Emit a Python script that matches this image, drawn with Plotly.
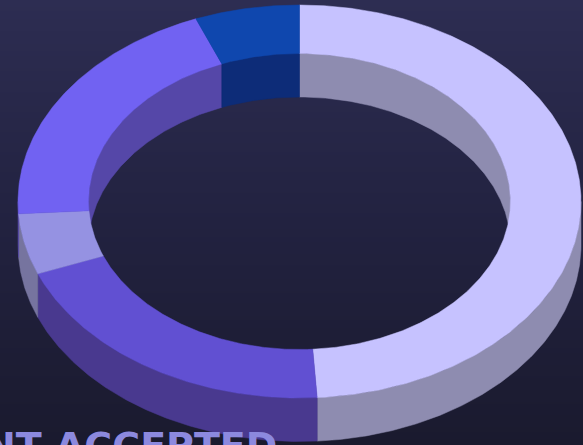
import numpy as np
import plotly.graph_objects as go

values = [49, 20, 5, 20, 6]
top_colors = ["#C6C2FF", "#6150D2", "#9592E2", "#7162F2", "#0F47AE"]
wall_colors = ["#8E8CB0", "#49398F", "#76749F", "#5547A8", "#0D2C78"]
caption = "NT ACCEPTED"

CX, CY = 299.5, 201.5
A_OUT, B_OUT = 281.5, 196.5
A_IN, B_IN = 211.0, 148.0
DEPTH = 43.5


def pt(theta, a, b, dy=0.0):
    t = np.radians(theta)
    return CX + a * np.sin(t), CY - b * np.cos(t) + dy


def band(t0, t1, a0, b0, dy0, a1, b1, dy1):
    n = max(int(abs(t1 - t0) * 2), 2)
    th = np.linspace(t0, t1, n)
    x0, y0 = pt(th, a0, b0, dy0)
    x1, y1 = pt(th[::-1], a1, b1, dy1)
    return np.r_[x0, x1, x0[0]], np.r_[y0, y1, y0[0]]


def poly(x, y, color):
    return go.Scatter(x=x, y=y, mode="lines", fill="toself", fillcolor=color,
                      line=dict(color=color, width=0.5), hoverinfo="skip", showlegend=False)


fig = go.Figure()
fig.add_trace(go.Heatmap(x=[0, 583], y=[0, 445], z=[[0, 0], [1, 1]], zsmooth="best",
                         colorscale=[[0, "#2D2D52"], [0.5, "#222240"], [1, "#1A1A2E"]],
                         showscale=False, hoverinfo="skip"))

edges = np.r_[0, np.cumsum(values)] / sum(values) * 360.0
spans = list(zip(edges[:-1], edges[1:]))

# inner wall (far half of the hole)
for (t0, t1), c in zip(spans, wall_colors):
    for lo, hi in ((t0, min(t1, 90)), (max(t0, 270), t1)):
        if hi > lo:
            fig.add_trace(poly(*band(lo, hi, A_IN, B_IN, 0, A_IN, B_IN, DEPTH), c))

# outer wall (near half of the ring)
for (t0, t1), c in zip(spans, wall_colors):
    lo, hi = max(t0, 90), min(t1, 270)
    if hi > lo:
        fig.add_trace(poly(*band(lo, hi, A_OUT, B_OUT, 0, A_OUT, B_OUT, DEPTH), c))

# top surface
for (t0, t1), c in zip(spans, top_colors):
    fig.add_trace(poly(*band(t0, t1, A_OUT, B_OUT, 0, A_IN, B_IN, 0), c))

fig.add_annotation(x=279, y=421.5, xref="x", yref="y", xanchor="right", yanchor="top",
                   text=f"<b>{caption}</b>", showarrow=False,
                   font=dict(family="DejaVu Sans", size=38, color="#8C89DE"))

fig.update_layout(width=583, height=445, margin=dict(l=0, r=0, t=0, b=0),
                  paper_bgcolor="#1A1A2E", plot_bgcolor="#1A1A2E", showlegend=False,
                  xaxis=dict(range=[0, 583], visible=False, fixedrange=True),
                  yaxis=dict(range=[445, 0], visible=False, fixedrange=True))
fig.write_html("out.html", config={"displayModeBar": False},
               post_script="document.body.style.margin='0';document.documentElement.style.overflow='hidden';")
